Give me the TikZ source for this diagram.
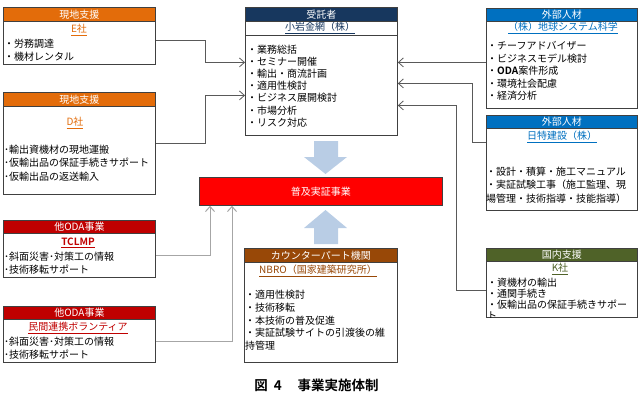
\documentclass[tikz,border=0pt]{standalone}
\usepackage{fontspec}
\setmainfont{Noto Sans CJK JP}[BoldFont={Noto Sans CJK JP Bold}]
\usepackage{tikz}
\usetikzlibrary{arrows.meta,positioning,calc}
\usepackage{xcolor}
\definecolor{genchi}{HTML}{E36C0A}
\definecolor{odared}{HTML}{C00000}
\definecolor{jutaku}{HTML}{17375E}
\definecolor{gaibu}{HTML}{0070C0}
\definecolor{kokunai}{HTML}{4F6228}
\definecolor{cpbrown}{HTML}{984807}
\definecolor{fukyu}{HTML}{FF0000}
\definecolor{flowblue}{HTML}{B9CDE5}
\definecolor{framegray}{HTML}{404040}

\begin{document}
\begin{tikzpicture}[x=1pt,y=-1pt,
  box/.style={draw=framegray,line width=0.8pt,fill=white,inner sep=0pt,
    anchor=north west,minimum width=152pt},
  hdr/.style={draw=framegray,line width=0.8pt,text=white,inner sep=0pt,
    anchor=north west,minimum height=14pt,font=\fontsize{10}{12}\selectfont},
  ttl/.style={inner sep=0pt,font=\fontsize{10}{12}\selectfont},
  items/.style={inner sep=0pt,anchor=north west,align=left},
  conn/.style={draw=black!65,line width=0.8pt,-{Straight Barb[length=5pt,width=9pt]}},
  feed/.style={draw=black!35,line width=1pt,-{Straight Barb[length=5pt,width=9pt]}}]
\useasboundingbox (0,0) rectangle (639,416);
% Left column: local support
\node[box,minimum height=57pt] (eBox) at (3,7) {};
\node[hdr,fill=genchi,minimum width=152pt] (eHead) at (eBox.north west) {現地支援};
\node[ttl,text=genchi] (eName) at (79,30) {\underline{E社}};
\node[items,font=\fontsize{10}{13}\selectfont] (eList) at (4,38.5)
  {・労務調達\\・機材レンタル};
\node[box,minimum height=102pt] (dBox) at (3,92) {};
\node[hdr,fill=genchi,minimum width=152pt] (dHead) at (dBox.north west) {現地支援};
\node[ttl,text=genchi] (dName) at (75,123) {\underline{D社}};
\node[items,font=\fontsize{10}{13.5}\selectfont] (dList) at (4,144.5)
  {･輸出資機材の現地運搬\\･仮輸出品の保証手続きサポート\\･仮輸出品の返送輸入};
% Other ODA projects
\node[box,minimum height=57pt] (tBox) at (3,220) {};
\node[hdr,fill=odared,minimum width=152pt,minimum height=13pt] (tHead) at (tBox.north west) {他ODA事業};
\node[ttl,text=odared,font=\fontsize{10}{12}\selectfont\bfseries] (tName) at (78,243) {\underline{TCLMP}};
\node[items,font=\fontsize{10}{13}\selectfont] (tList) at (4,251.5)
  {･斜面災害･対策工の情報\\･技術移転サポート};
\node[box,minimum height=56pt] (mBox) at (3,306) {};
\node[hdr,fill=odared,minimum width=152pt,minimum height=13pt] (mHead) at (mBox.north west) {他ODA事業};
\node[ttl,text=odared] (mName) at (78,328) {\underline{民間連携ボランティア}};
\node[items,font=\fontsize{10}{12.5}\selectfont] (mList) at (4,337)
  {･斜面災害･対策工の情報\\･技術移転サポート};
% Contractor
\node[box,minimum height=128pt] (jBox) at (245,7) {};
\node[hdr,fill=jutaku,minimum width=152pt] (jHead) at (jBox.north west) {受託者};
\draw[draw=framegray,line width=0.8pt] ([yshift=-28pt]jBox.north west) -- ([yshift=-28pt]jBox.north east);
\node[ttl,text=jutaku] (jName) at (320,28) {\underline{小岩金網（株）}};
\node[items,font=\fontsize{10}{12.2}\selectfont] (jList) at (247,44.5)
  {・業務総括\\・セミナー開催\\・輸出・商流計画\\・適用性検討\\・ビジネス展開検討\\・市場分析\\・リスク対応};
% Project
\node[draw=black!75,line width=0.8pt,fill=fukyu,anchor=north west,minimum width=243pt,
  minimum height=28pt,inner sep=0pt,text=white,font=\fontsize{10}{12}\selectfont] (fukyu) at (199,177) {普及実証事業};
\fill[flowblue] (314,141) -- (338,141) -- (338,157) -- (347,157) -- (325.5,174)
  -- (304,157) -- (314,157) -- cycle;
\fill[flowblue] (314,244) -- (338,244) -- (338,228) -- (347,228) -- (325.5,210)
  -- (304,228) -- (314,228) -- cycle;
% Counterpart
\node[box,minimum width=153pt,minimum height=114pt] (cBox) at (244,248) {};
\node[hdr,fill=cpbrown,minimum width=153pt] (cHead) at (cBox.north west) {カウンターパート機関};
\node[ttl,text=cpbrown] (cName) at (318,271) {\underline{NBRO（国家建築研究所）}};
\node[items,font=\fontsize{10}{12.7}\selectfont] (cList) at (245,290)
  {・適用性検討\\・技術移転\\・本技術の普及促進\\・実証試験サイトの引渡後の維\\持管理};
% Right column
\node[box,minimum width=151pt,minimum height=100pt] (g1Box) at (486,8) {};
\node[hdr,fill=gaibu,minimum width=151pt,minimum height=13pt] (g1Head) at (g1Box.north west) {外部人材};
\node[ttl,text=gaibu] (g1Name) at (563,28) {\underline{（株）地球システム科学}};
\node[items,font=\fontsize{10}{12.5}\selectfont] (g1List) at (487,41.5)
  {・チーフアドバイザー\\・ビジネスモデル検討\\・\textbf{ODA}案件形成\\・環境社会配慮\\・経済分析};
\node[box,minimum width=151pt,minimum height=95pt] (g2Box) at (486,115) {};
\node[hdr,fill=gaibu,minimum width=151pt,minimum height=13pt] (g2Head) at (g2Box.north west) {外部人材};
\node[ttl,text=gaibu] (g2Name) at (562,137) {\underline{日特建設（株）}};
\node[items,font=\fontsize{10}{13.5}\selectfont] (g2List) at (486,166.5)
  {・設計・積算・施工マニュアル\\・実証試験工事（施工監理、現\\場管理・技術指導・技能指導）};
\node[box,minimum width=151pt,minimum height=69pt] (kBox) at (486,248) {};
\node[hdr,fill=kokunai,minimum width=151pt,minimum height=13pt] (kHead) at (kBox.north west) {国内支援};
\node[ttl,text=kokunai] (kName) at (560,269) {\underline{K社}};
\begin{scope}
  \clip (kBox.north west) rectangle (kBox.south east);
  \node[items,font=\fontsize{10}{10.8}\selectfont] (kList) at (487,278)
    {・資機材の輸出\\・通関手続き\\・仮輸出品の保証手続きサポー\\ト};
\end{scope}
% Connectors
\draw[conn] ([yshift=-4.5pt]eBox.east) -- ++(50,0) |- ([yshift=9pt]jBox.west);
\draw[conn] (dBox.east) -- ++(50,0) |- ([yshift=-24pt]jBox.west);
\draw[feed] ([yshift=-6.5pt]tBox.east) -| ([xshift=11pt]fukyu.south west);
\draw[feed] ([yshift=-7pt]mBox.east) -| ([xshift=33pt]fukyu.south west);
\draw[conn] ([yshift=9pt]jBox.east -| g1Box.west) -- ([yshift=9pt]jBox.east);
\draw[conn] ([yshift=20.5pt]g2Box.west) -- ++(-14,0) |- ([yshift=-12pt]jBox.east);
\draw[conn] ([yshift=-7.5pt]kBox.west) -- ++(-30,0) |- ([yshift=-34pt]jBox.east);
% Caption
\node[font=\fontsize{13.5}{16}\selectfont\bfseries] (caption) at (316.5,385)
  {図\hspace{6pt}4\hspace{16pt}事業実施体制};
\end{tikzpicture}
\end{document}
